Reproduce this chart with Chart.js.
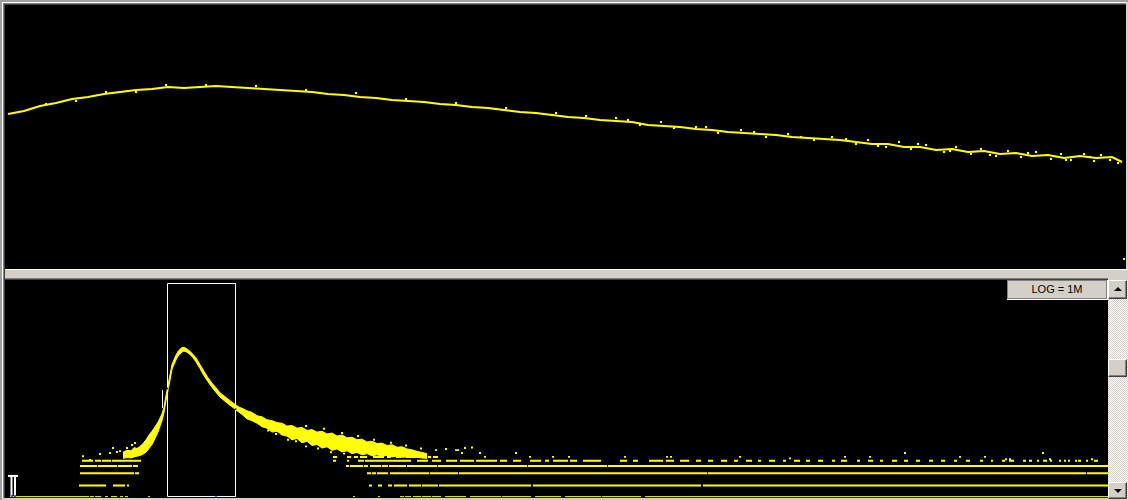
<!DOCTYPE html>
<html><head><meta charset="utf-8">
<script src="https://cdn.jsdelivr.net/npm/chart.js@4/dist/chart.umd.min.js"></script>
<style>
html,body{margin:0;padding:0;background:#d4d0c8;width:1128px;height:500px;overflow:hidden;position:relative}
div,canvas{position:absolute;box-sizing:border-box}
.btn{background:#d4d0c8;border:1px solid;border-color:#ffffff #404040 #404040 #ffffff;box-shadow:inset -1px -1px 0 #808080}
.up,.down{position:absolute;left:5px;width:0;height:0;border-left:4px solid transparent;border-right:4px solid transparent}
.up{top:6px;border-bottom:4px solid #000}
.down{top:6px;border-top:4px solid #000}
</style></head><body>
<!-- frame lines -->
<div style="left:0;top:0;width:1128px;height:2px;background:#a0a0a0"></div>
<div style="left:0;top:0;width:2px;height:500px;background:#a0a0a0"></div>
<div style="left:2px;top:2px;width:1124px;height:1px;background:#ffffff"></div>
<div style="left:2px;top:2px;width:1px;height:496px;background:#ffffff"></div>
<div style="left:3px;top:3px;width:1123px;height:1px;background:#808080"></div>
<div style="left:3px;top:3px;width:1px;height:495px;background:#808080"></div>
<div style="left:4px;top:4px;width:1122px;height:1px;background:#404040"></div>
<div style="left:4px;top:4px;width:1px;height:494px;background:#404040"></div>
<!-- top panel -->
<div style="left:5px;top:5px;width:1121px;height:264px;background:#000"></div>
<canvas id="topChart" width="1120" height="262" style="left:6px;top:6px;width:1120px;height:262px"></canvas>
<!-- separator -->
<div style="left:5px;top:269px;width:1123px;height:1px;background:#ffffff"></div>
<div style="left:5px;top:270px;width:1123px;height:8px;background:#d4d0c8"></div>
<div style="left:5px;top:278px;width:1103px;height:1px;background:#808080"></div>
<div style="left:5px;top:279px;width:1103px;height:1px;background:#404040"></div>
<!-- bottom panel -->
<div style="left:5px;top:280px;width:1103px;height:218px;background:#000"></div>
<canvas id="botChart" width="1102" height="218" style="left:6px;top:280px;width:1102px;height:218px"></canvas>
<!-- LOG button -->
<div style="left:1007px;top:280px;width:101px;height:20px;background:#ffffff"></div>
<div style="left:1007px;top:280px;width:100px;height:19px;background:#d4d0c8;border:1px solid #808080;font:11px 'Liberation Sans',Arial,sans-serif;color:#000;text-align:center;line-height:17px">LOG = 1M</div>
<!-- scrollbar -->
<div style="left:1108px;top:280px;width:20px;height:219px;background:repeating-conic-gradient(#ffffff 0% 25%, #d4d0c8 0% 50%) 0 0/2px 2px"></div>
<div class="btn" style="left:1108px;top:280px;width:19px;height:19px"><div class="up"></div></div>
<div class="btn" style="left:1108px;top:359px;width:19px;height:18px"></div>
<div class="btn" style="left:1108px;top:482px;width:19px;height:17px"><div class="down"></div></div>
<script>
// ---------- TOP PANEL (rate vs channel) ----------
const topChannels = [2,18,34,50,66,82,98,114,130,146,162,178,194,210,226,242,258,274,290,306,322,338,354,370,386,402,418,434,450,466,482,498,514,530,546,562,578,594,610,626,642,658,674,690,706,722,738,754,770,786,802,818,834,850,866,882,898,914,930,946,962,978,994,1010,1026,1042,1058,1074,1090,1106,1116];
const topLevels = [154,157,162,165,169,171,174,176,178,179,181,180,181,182,181,180,179,178,177,176,174,173,171,170,168,167,166,164,163,161,160,158,156,155,153,151,150,148,147,146,143,142,141,139,138,136,135,134,133,131,130,129,128,126,124,124,121,121,118,119,116,117,114,115,112,113,110,112,110,111,106];
const topSpeckChannels = [40,70,100,130,160,200,250,300,350,400,450,500,550,580,610,634,655,690,712,735,760,782,808,826,850,862,880,893,905,920,938,950,965,975,990,1002,1015,1030,1045,1055,1065,1078,1088,1095,1104,1112,622,668,700,748,795,840,872,912,944,984,1022,1060,1084];
const topSpeckLevels = [164,167,176,176,183,183,182,178,175,169,165,160,155,152,150,143,146,141,135,138,131,134,128,131,124,128,121,126,119,123,116,121,114,119,112,117,111,116,109,114,108,114,107,113,108,105,148,140,141,136,131,129,122,124,117,113,115,108,111];
const topStrayChannels = [1118];
const topStrayLevels = [9];

// ---------- BOTTOM PANEL (log spectrum) ----------
const peakChannels = [117,121,125,128,131,134,137,140,143,146,149,152,154,156,158,159,160,161,162,163,164,165,166,167,168,169,170,172,174,175,177,179,181,184,187,190,194,198,202,206,210,214,218,222,226,230,233,236,241,246,251,256,261,266,271,276,281,286,291,296,301,306,311,316,321,326,331,336,341,346,351,356,361,366,371,376,381,386,391,396,401,406,411,416,421];
const peakUpper = [6.5,7.2,7.0,8.4,8.0,9.0,10.5,13,17,21,27,35,44,56,80,115,155,205,275,370,495,665,890,1020,1160,1320,1500,1830,2070,2200,2300,2250,2100,1850,1550,1280,880,600,420,310,240,180,152,127,107,91,81,76,66,60,50,47,40,38,34,33,28,29,25,26,22,23,20,21,18,19,16,17,14.5,15,13,13.5,11.5,12,10.5,10.8,9.5,9.8,8.6,8.8,7.8,7.4,6.8,6.4,6.0];
const peakLower = [4.6,4.8,4.7,5.0,5.2,5.4,5.8,6.5,8,10,14,20,28,38,60,85,115,155,205,275,370,500,680,780,880,1000,1150,1400,1580,1680,1850,1850,1750,1550,1280,1020,700,470,335,245,185,142,118,98,83,69,61,54,42,38,33,27,25,20,21,17,16,13,14,11,12,9.5,10,8.2,8.8,7.2,7.8,6.6,7.0,6.0,6.4,5.6,6.0,5.3,5.6,5.2,5.4,5.0,5.2,4.9,5.0,4.8,4.9,4.7,4.6];

// discrete low-count levels: runs of channels [first,last] holding each count
const zeroLevel = 0.54;
const zeroRuns = [[4,82],[84,87],[89,94],[99,101],[105,110],[114,116],[119,121],[142,143],[347,348],[372,373],[394,397],[399,404],[407,414],[416,424],[426,434],[439,459],[464,494],[496,524],[529,554],[559,594],[596,634],[639,1101]];
const count1Runs = [[73,90],[91,99],[107,118],[121,122],[363,365],[372,375],[382,385],[388,393],[394,400],[403,414],[416,431],[433,524],[527,694],[697,1101]];
const count2Runs = [[74,101],[102,119],[120,127],[129,132],[361,364],[366,369],[371,381],[384,391],[392,422],[424,451],[453,700],[702,1079],[1081,1101]];
const count3Runs = [[74,90],[92,110],[112,125],[127,131],[340,342],[344,346],[347,351],[352,356],[358,361],[364,366],[367,374],[376,381],[383,399],[401,430],[432,520],[522,600],[602,1101]];
const count4Runs = [[76,81],[82,86],[89,94],[96,104],[106,111],[112,134],[327,329],[341,342],[352,357],[359,366],[367,376],[377,404],[411,421],[426,434],[440,450],[454,467],[470,490],[494,500],[507,514],[524,534],[539,542],[547,561],[564,570],[577,594],[614,620],[627,631],[643,656],[660,667],[674,682],[690,694],[702,706],[715,720],[728,731],[740,745],[752,754],[763,768],[777,779],[788,793],[800,803],[812,816],[826,828],[835,840],[851,853],[862,866],[874,876],[886,890],[898,901],[910,913],[923,926],[935,938],[948,950],[960,963],[974,976],[985,986],[996,998],[1003,1007],[1017,1019],[1023,1025],[1031,1032],[1037,1040],[1044,1045],[1053,1054],[1058,1059],[1062,1063],[1069,1070],[1072,1074],[1080,1081],[1088,1091]];
const count5Runs = [[327,330],[341,344],[348,351],[354,360],[367,377],[381,384],[390,394],[400,404],[407,412],[422,424],[427,431]];
const levelCounts = [1,2,3,4,5];

const speckChannels = [77,84,94,104,107,111,114,121,126,129,131,450,459,456,474,479,510,524,547,563,619,661,665,734,784,839,864,899,954,979,1000,1004,1037,1044,1086,262,270,282,290,300,312,325,338,300,318,336,352,368,385,400,415,430,440,452,466];
const speckCounts = [5.2,4.2,5.9,6.2,8.2,6.6,6.9,8.2,9.7,10.9,7.8,7.3,8.2,6.2,6.2,5.0,6.2,5.0,5.0,5.0,5.0,5.0,5.0,5.0,4.6,5.0,5.0,6.2,5.0,5.0,4.4,4.4,6.2,4.4,4.4,22,18,13,12,9,8,6.5,6.0,28,24,19,16,13,11,9.5,8,7.3,7.8,7.3,8.5];

// region of interest and cursors
const roiChannels = [161.5,229.5];
const roiCounts = [0.544,82000];
const cursorBar = [2,12];
const cursorLegs = [5.5,9];
const cursorCounts = [0.56,1.72];
const markerChannel = 156.5;
const markerCounts = [77,211];
const blueChannels = [6,9,210,161.5,229.5];
const blueCounts = [0.56,0.56,0.56,230,72];

const YEL = '#ffff00';

function runsData(runs, y) {
  const d = [];
  for (const [a, b] of runs) { d.push({x:a, y:y}, {x:b+1, y:y}, {x:b+1, y:null}); }
  return d;
}
function lineDs(data, color, width, order) {
  return {type:'line', data, borderColor:color, backgroundColor:color, borderWidth:width, pointRadius:0, pointHoverRadius:0, tension:0, spanGaps:false, fill:false, order, borderCapStyle:'butt'};
}
function speckDs(data, color, r, order) {
  return {type:'scatter', data, pointStyle:'rect', pointRadius:r, pointHoverRadius:0, backgroundColor:color, borderWidth:0, order};
}

const common = {
  responsive:false, animation:false, devicePixelRatio:1, events:[],
  layout:{padding:0, autoPadding:false},
  plugins:{legend:{display:false}, tooltip:{enabled:false}, title:{display:false}}
};

new Chart(document.getElementById('topChart'), {
  type:'line',
  data:{datasets:[
    lineDs(topChannels.map((c,i)=>({x:c, y:topLevels[i]})), YEL, 2, 1),
    speckDs(topSpeckChannels.map((c,i)=>({x:c, y:topSpeckLevels[i]})), YEL, 1.5, 1),
    speckDs(topStrayChannels.map((c,i)=>({x:c, y:topStrayLevels[i]})), YEL, 1.4, 0)
  ]},
  options: Object.assign({}, common, {
    scales:{
      x:{type:'linear', min:0, max:1120, display:false},
      y:{type:'linear', min:0, max:262, display:false}
    }
  })
});

const botDatasets = [];
// ROI box (top)
botDatasets.push(lineDs([
  {x:roiChannels[0], y:roiCounts[0]}, {x:roiChannels[0], y:roiCounts[1]},
  {x:roiChannels[1], y:roiCounts[1]}, {x:roiChannels[1], y:roiCounts[0]},
  {x:roiChannels[0], y:roiCounts[0]}], '#ffffff', 1, 1));
// cursor
botDatasets.push(lineDs([{x:cursorBar[0], y:cursorCounts[1]}, {x:cursorBar[1], y:cursorCounts[1]}], '#ffffff', 2, 1));
cursorLegs.forEach(c => botDatasets.push(lineDs([{x:c, y:cursorCounts[0]}, {x:c, y:cursorCounts[1]}], '#ffffff', 2, 1)));
// marker
botDatasets.push(lineDs([{x:markerChannel, y:markerCounts[0]}, {x:markerChannel, y:markerCounts[1]}], '#ffffff', 1, 1));
// blue marks
botDatasets.push(speckDs(blueChannels.map((c,i)=>({x:c, y:blueCounts[i]})), '#0000ff', 1.2, 0));
// peak band
botDatasets.push(Object.assign(lineDs(peakChannels.map((c,i)=>({x:c, y:peakUpper[i]})), YEL, 1, 3), {fill:'+1', backgroundColor:YEL}));
botDatasets.push(lineDs(peakChannels.map((c,i)=>({x:c, y:peakLower[i]})), YEL, 1, 3));
// low count levels
const allRuns = [count1Runs, count2Runs, count3Runs, count4Runs, count5Runs];
allRuns.forEach((r, i) => botDatasets.push(lineDs(runsData(r, levelCounts[i]), YEL, 2, 4)));
botDatasets.push(lineDs(runsData(zeroRuns, zeroLevel), YEL, 1, 4));
// specks
botDatasets.push(speckDs(speckChannels.map((c,i)=>({x:c, y:speckCounts[i]})), YEL, 1.4, 4));

new Chart(document.getElementById('botChart'), {
  type:'line',
  data:{datasets: botDatasets},
  options: Object.assign({}, common, {
    scales:{
      x:{type:'linear', min:0, max:1102, display:false},
      y:{type:'logarithmic', min:0.5, max:100000, display:false}
    }
  })
});
</script>
</body></html>
